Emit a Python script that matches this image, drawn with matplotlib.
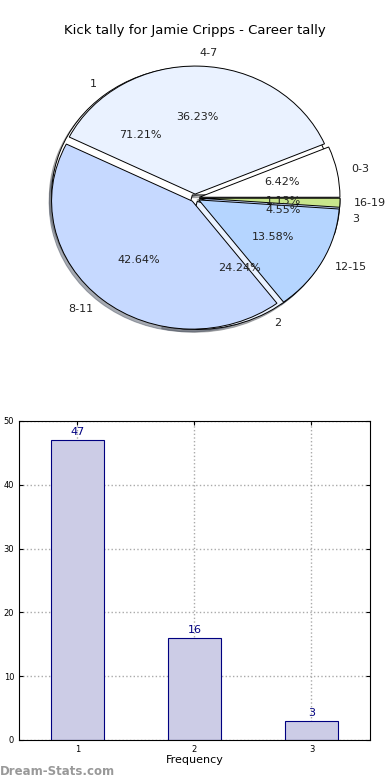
import numpy as np
import matplotlib
matplotlib.use("Agg")
import matplotlib.pyplot as plt

# datos del pie de rangos de patadas
kick_labels = ["0-3", "4-7", "8-11", "12-15", "16-19"]
kick_pct = [6.42, 36.23, 42.64, 13.58, 1.13]

# datos de frecuencia (pie de abajo y barras)
freq_labels = ["1", "2", "3"]
freq_counts = [47, 16, 3]

colores = ["#ffffff", "#eaf2ff", "#c6d9ff", "#b5d5ff", "#c8e68c"]

fig = plt.figure(figsize=(3.9, 7.8), dpi=100)

# ---- pie (dos pies encimados, sin aspecto igual) ----
sombra = dict(ox=-0.012, oy=-0.015, shade=0.6)
ax1 = fig.add_axes([0.0353, 0.5346, 0.9295, 0.423])
ax1.pie(freq_counts, labels=freq_labels, colors=colores[:3], explode=[0.03] * 3,
        autopct="%.2f%%", shadow=sombra, startangle=0, radius=0.97,
        wedgeprops=dict(edgecolor="black", linewidth=0.7),
        textprops=dict(fontsize=8, color="#222222"))
ax1.pie(kick_pct, labels=kick_labels, colors=colores, explode=[0.03] * 5,
        autopct="%.2f%%", shadow=sombra, startangle=0, radius=0.97,
        wedgeprops=dict(edgecolor="black", linewidth=0.7),
        textprops=dict(fontsize=8, color="#222222"))
ax1.set_aspect("auto")
ax1.set_xlim(-1.25, 1.25)
ax1.set_ylim(-1.25, 1.25)
ax1.set_title("Kick tally for Jamie Cripps - Career tally", fontsize=9.5, y=0.997, pad=0)

# ---- barras ----
ax2 = fig.add_axes([0.0487, 0.0513, 0.9, 0.409])
x = np.arange(1, len(freq_counts) + 1)
ax2.bar(x, freq_counts, width=0.45, color="#ccccE6", edgecolor="#000080", linewidth=0.8, zorder=2)
for xi, v in zip(x, freq_counts):
    ax2.text(xi, v + 0.5, str(v), ha="center", va="bottom", fontsize=8, color="#000080")
ax2.set_xlim(0.5, 3.5)
ax2.set_ylim(0, 50)
ax2.set_xticks(x)
ax2.set_xticklabels(freq_labels)
ax2.set_yticks(range(0, 51, 10))
ax2.tick_params(direction="in", top=True, right=True, labelsize=6, length=3)
ax2.grid(True, linestyle=":", color="#aaaaaa", linewidth=1, zorder=0)
ax2.set_axisbelow(True)
ax2.set_xlabel("Frequency", fontsize=8, labelpad=1)

fig.text(0.0, 0.003, "Dream-Stats.com", fontsize=8.5, color="#999999", fontweight="bold",
         ha="left", va="bottom")

plt.savefig("out.png", dpi=100)
